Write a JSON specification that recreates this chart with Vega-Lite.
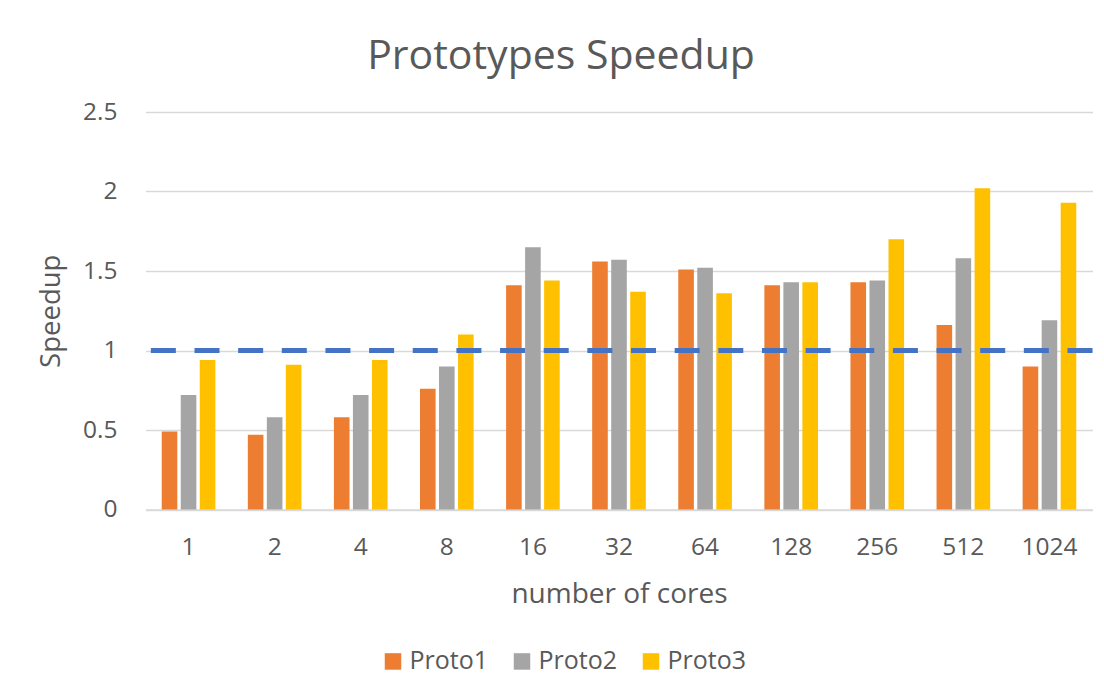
{
  "$schema": "https://vega.github.io/schema/vega-lite/v6.json",
  "width": 947,
  "height": 397.5,
  "autosize": {"type": "none"},
  "padding": {"left": 145.5, "top": 112, "right": 11.5, "bottom": 184.5},
  "background": "white",
  "title": {
    "text": "Prototypes Speedup",
    "font": "Open Sans",
    "fontSize": 41,
    "fontWeight": "normal",
    "color": "#595959",
    "anchor": "middle",
    "frame": "group",
    "dx": -58,
    "dy": 15,
    "baseline": "alphabetic",
    "offset": 4
  },
  "data": {
    "values": [
      {"cores": "1", "series": "Proto1", "speedup": 0.49},
      {"cores": "1", "series": "Proto2", "speedup": 0.72},
      {"cores": "1", "series": "Proto3", "speedup": 0.94},
      {"cores": "2", "series": "Proto1", "speedup": 0.47},
      {"cores": "2", "series": "Proto2", "speedup": 0.58},
      {"cores": "2", "series": "Proto3", "speedup": 0.91},
      {"cores": "4", "series": "Proto1", "speedup": 0.58},
      {"cores": "4", "series": "Proto2", "speedup": 0.72},
      {"cores": "4", "series": "Proto3", "speedup": 0.94},
      {"cores": "8", "series": "Proto1", "speedup": 0.76},
      {"cores": "8", "series": "Proto2", "speedup": 0.9},
      {"cores": "8", "series": "Proto3", "speedup": 1.1},
      {"cores": "16", "series": "Proto1", "speedup": 1.41},
      {"cores": "16", "series": "Proto2", "speedup": 1.65},
      {"cores": "16", "series": "Proto3", "speedup": 1.44},
      {"cores": "32", "series": "Proto1", "speedup": 1.56},
      {"cores": "32", "series": "Proto2", "speedup": 1.57},
      {"cores": "32", "series": "Proto3", "speedup": 1.37},
      {"cores": "64", "series": "Proto1", "speedup": 1.51},
      {"cores": "64", "series": "Proto2", "speedup": 1.52},
      {"cores": "64", "series": "Proto3", "speedup": 1.36},
      {"cores": "128", "series": "Proto1", "speedup": 1.41},
      {"cores": "128", "series": "Proto2", "speedup": 1.43},
      {"cores": "128", "series": "Proto3", "speedup": 1.43},
      {"cores": "256", "series": "Proto1", "speedup": 1.43},
      {"cores": "256", "series": "Proto2", "speedup": 1.44},
      {"cores": "256", "series": "Proto3", "speedup": 1.7},
      {"cores": "512", "series": "Proto1", "speedup": 1.16},
      {"cores": "512", "series": "Proto2", "speedup": 1.58},
      {"cores": "512", "series": "Proto3", "speedup": 2.02},
      {"cores": "1024", "series": "Proto1", "speedup": 0.9},
      {"cores": "1024", "series": "Proto2", "speedup": 1.19},
      {"cores": "1024", "series": "Proto3", "speedup": 1.93}
    ]
  },
  "layer": [
    {
      "mark": {"type": "bar"},
      "encoding": {
        "x": {
          "field": "cores",
          "type": "nominal",
          "sort": null,
          "scale": {"paddingInner": 0.377, "paddingOuter": 0.1885},
          "axis": {
            "title": "number of cores",
            "labelAngle": 0,
            "domain": true,
            "domainColor": "#D9D9D9",
            "domainWidth": 1.5,
            "ticks": false,
            "grid": false,
            "labelFont": "Open Sans",
            "labelFontSize": 24.5,
            "labelColor": "#595959",
            "labelPadding": 26,
            "titleFont": "Open Sans",
            "titleFontSize": 28,
            "titleFontWeight": "normal",
            "titleColor": "#595959",
            "titleBaseline": "alphabetic",
            "titleY": 93
          }
        },
        "xOffset": {
          "field": "series",
          "type": "nominal",
          "scale": {"paddingInner": 0.18, "paddingOuter": 0}
        },
        "y": {
          "field": "speedup",
          "type": "quantitative",
          "scale": {"domain": [0, 2.5], "nice": false},
          "axis": {
            "title": "Speedup",
            "values": [0, 0.5, 1, 1.5, 2, 2.5],
            "format": "~g",
            "grid": true,
            "gridColor": "#D9D9D9",
            "gridWidth": 1.5,
            "domain": false,
            "ticks": false,
            "labelFont": "Open Sans",
            "labelFontSize": 24.5,
            "labelColor": "#595959",
            "labelPadding": 28.5,
            "titleFont": "Open Sans",
            "titleFontSize": 27.5,
            "titleFontWeight": "normal",
            "titleColor": "#595959",
            "titleAngle": -90,
            "titleBaseline": "alphabetic",
            "titleX": -86,
            "titleY": 198.75
          }
        },
        "color": {
          "field": "series",
          "type": "nominal",
          "scale": {"domain": ["Proto1", "Proto2", "Proto3"], "range": ["#ED7D31", "#A5A5A5", "#FFC000"]},
          "legend": {
            "title": null,
            "orient": "none",
            "legendX": 235,
            "legendY": 536.7,
            "direction": "horizontal",
            "symbolType": "square",
            "symbolSize": 272,
            "symbolStrokeWidth": 0,
            "labelFont": "Open Sans",
            "labelFontSize": 25,
            "labelColor": "#595959",
            "labelOffset": 4,
            "columnPadding": 21,
            "padding": 0
          }
        }
      }
    },
    {
      "data": {"values": [{"ref": 1}]},
      "mark": {"type": "rule", "color": "#4472C4", "strokeWidth": 5, "strokeDash": [25, 18.65], "strokeCap": "butt"},
      "encoding": {
        "y": {"field": "ref", "type": "quantitative"}
      }
    }
  ],
  "config": {
    "view": {"stroke": null}
  }
}
